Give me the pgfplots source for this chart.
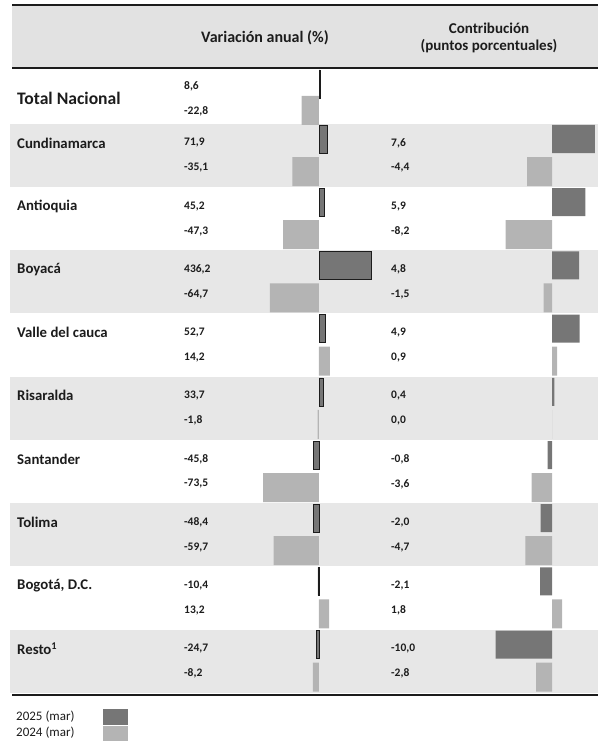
\documentclass[border=0pt]{standalone}
\usepackage{fontspec}
\setmainfont{Carlito}
\usepackage{pgfplots}
\usepackage{pgfplotstable}
\pgfplotsset{compat=1.18}
\definecolor{dk}{HTML}{767676}
\definecolor{lt}{HTML}{B4B4B4}
\definecolor{band}{HTML}{E7E7E7}
\definecolor{hdr}{HTML}{E2E2E2}
\definecolor{txt}{HTML}{1C1C1C}

% y = vertical position of the bar (row), v = value
\pgfplotstableread{
y v
84 8.6
139 71.9
202.2 45.2
265.4 436.2
328.6 52.7
391.8 33.7
455 -45.8
518.2 -48.4
581.4 -10.4
644.6 -24.7
}\varA
\pgfplotstableread{
y v
110.5 -22.8
171.5 -35.1
234.7 -47.3
297.9 -64.7
361.1 14.2
424.3 -1.8
487.5 -73.5
550.7 -59.7
613.9 13.2
677.1 -8.2
}\varB
\pgfplotstableread{
y v
139 7.6
202.2 5.9
265.4 4.8
328.6 4.9
391.8 0.4
455 -0.8
518.2 -2.0
581.4 -2.1
644.6 -10.0
}\conA
\pgfplotstableread{
y v
171.5 -4.4
234.7 -8.2
297.9 -1.5
361.1 0.9
424.3 0.0
487.5 -3.6
550.7 -4.7
613.9 1.8
677.1 -2.8
}\conB

\pgfplotsset{
  canvas/.style={at={(0,0)},anchor=south west,scale only axis,
    width=598pt,height=752pt,ymin=0,ymax=752,y dir=reverse,hide axis},
  baraxis/.style={canvas,xbar,bar width=28pt,bar shift=0pt},
}
\newcommand{\lab}[3]{\node[anchor=west,text=txt,font=\fontsize{14.8}{16}\selectfont\bfseries,inner sep=0pt] at (axis cs:#1,#2) {#3};}
\newcommand{\num}[3]{\node[anchor=west,text=txt,font=\fontsize{11.5}{13}\selectfont\bfseries,inner sep=0pt] at (axis cs:#1,#2) {#3};}

\begin{document}
\begin{tikzpicture}
\path[use as bounding box] (0,0) rectangle (598pt,752pt);
% ---------- canvas: bands, rules, text ----------
\begin{axis}[canvas,xmin=0,xmax=598,clip=false]
\fill[hdr] (axis cs:12,6) rectangle (axis cs:598,67);
\pgfplotsinvokeforeach{0,2,4,6,8}{
  \fill[band] (axis cs:10,{124+63.2*#1}) rectangle (axis cs:598,{187+63.2*#1});
}
\draw[line width=1.5pt,txt] (axis cs:12,5) -- (axis cs:598,5);
\draw[line width=2.5pt,txt] (axis cs:12,68) -- (axis cs:598,68);
\draw[line width=2.5pt,txt] (axis cs:12,695) -- (axis cs:598,695);
% headers
\node[text=txt,font=\fontsize{16}{18}\selectfont\bfseries] at (axis cs:265,38) {Variación anual (\%)};
\node[text=txt,font=\fontsize{15}{17}\selectfont\bfseries] at (axis cs:489,28) {Contribución};
\node[text=txt,font=\fontsize{15}{17}\selectfont\bfseries] at (axis cs:489,46) {(puntos porcentuales)};
% total
\node[anchor=west,text=txt,font=\fontsize{17.6}{19}\selectfont\bfseries,inner sep=0pt] at (axis cs:17,98) {Total Nacional};
\num{184}{86}{8,6}
\num{184}{111}{-22,8}
% regions
\lab{17}{143}{Cundinamarca}
\lab{17}{206.2}{Antioquia}
\lab{17}{269.4}{Boyacá}
\lab{17}{332.6}{Valle del cauca}
\lab{17}{395.8}{Risaralda}
\lab{17}{459}{Santander}
\lab{17}{522.2}{Tolima}
\lab{17}{585.4}{Bogotá, D.C.}
\lab{17}{648.6}{Resto\textsuperscript{1}}
% variation numbers
\num{184}{143}{71,9}   \num{184}{168}{-35,1}
\num{184}{206.2}{45,2} \num{184}{231.2}{-47,3}
\num{184}{269.4}{436,2}\num{184}{294.4}{-64,7}
\num{184}{332.6}{52,7} \num{184}{357.6}{14,2}
\num{184}{395.8}{33,7} \num{184}{420.8}{-1,8}
\num{184}{459}{-45,8}  \num{184}{484}{-73,5}
\num{184}{522.2}{-48,4}\num{184}{547.2}{-59,7}
\num{184}{585.4}{-10,4}\num{184}{610.4}{13,2}
\num{184}{648.6}{-24,7}\num{184}{673.6}{-8,2}
% contribution numbers
\num{391}{143}{7,6}    \num{391}{168}{-4,4}
\num{391}{206.2}{5,9}  \num{391}{231.2}{-8,2}
\num{391}{269.4}{4,8}  \num{391}{294.4}{-1,5}
\num{391}{332.6}{4,9}  \num{391}{357.6}{0,9}
\num{391}{395.8}{0,4}  \num{391}{420.8}{0,0}
\num{391}{459}{-0,8}   \num{391}{484}{-3,6}
\num{391}{522.2}{-2,0} \num{391}{547.2}{-4,7}
\num{391}{585.4}{-2,1} \num{391}{610.4}{1,8}
\num{391}{648.6}{-10,0}\num{391}{673.6}{-2,8}
% legend
\node[anchor=west,text=txt,font=\fontsize{13}{15}\selectfont,inner sep=0pt] at (axis cs:16,717) {2025 (mar)};
\node[anchor=west,text=txt,font=\fontsize{13}{15}\selectfont,inner sep=0pt] at (axis cs:16,733) {2024 (mar)};
\fill[dk] (axis cs:103,709) rectangle (axis cs:128,725);
\fill[lt] (axis cs:103,726) rectangle (axis cs:128,741);
\end{axis}
% ---------- left panel, 2024 bars (zero at x=319, 0.76 px per unit) ----------
\begin{axis}[baraxis,xmin=-419.7,xmax=367.1]
\addplot[fill=lt,draw=none,bar width=29pt] table[x=v,y=y] {\varB};
\end{axis}
% ---------- left panel, 2025 bars (zero at x=319, 0.12 px per unit) ----------
\begin{axis}[baraxis,xmin=-2658.3,xmax=2325]
\addplot[fill=dk,draw=txt,line width=0.4pt] table[x=v,y=y] {\varA};
\end{axis}
% ---------- right panel (zero at x=552, 5.65 px per unit) ----------
\begin{axis}[baraxis,xmin=-97.7,xmax=8.14]
\addplot[fill=lt,draw=none,bar width=29pt] table[x=v,y=y] {\conB};
\addplot[fill=dk,draw=none] table[x=v,y=y] {\conA};
\end{axis}
\end{tikzpicture}
\end{document}
